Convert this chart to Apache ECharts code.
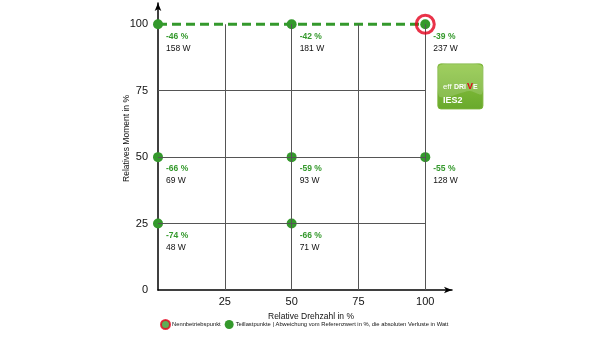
<!DOCTYPE html>
<html><head><meta charset="utf-8">
<script src="https://cdn.jsdelivr.net/npm/echarts@6/dist/echarts.min.js"></script>
<style>html,body{margin:0;padding:0;background:#fff}#c{width:600px;height:338px}</style>
</head><body><div id="c"></div>
<script>
const xTickValues = [25, 50, 75, 100];
const yTickValues = [0, 25, 50, 75, 100];
const gridXValues = [25, 50, 75, 100];
const gridYValues = [25, 50, 75];
const pointsX = [0, 50, 100, 0, 50, 100, 0, 50];
const pointsY = [100, 100, 100, 50, 50, 50, 25, 25];
const deviation = ['-46 %', '-42 %', '-39 %', '-66 %', '-59 %', '-55 %', '-74 %', '-66 %'];
const losses = ['158 W', '181 W', '237 W', '69 W', '93 W', '128 W', '48 W', '71 W'];
const ratedPoint = [100, 100];
const ratedLineY = 100;
const xTitle = 'Relative Drehzahl in %';
const yTitle = 'Relatives Moment in %';
const legendNames = ['Nennbetriebspunkt', 'Teillastpunkte'];
const legendNote = 'Abweichung vom Referenzwert in %, die absoluten Verluste in Watt';

const FONT = '"Liberation Sans Narrow", "Liberation Sans", Arial, sans-serif';
const GREEN = '#34992c';
const RED = '#e3001b';

const chart = echarts.init(document.getElementById('c'), null, {renderer: 'canvas'});

const gridLines = [];
gridXValues.forEach(v => gridLines.push([{coord: [v, 0]}, {coord: [v, 100]}]));
gridYValues.forEach(v => gridLines.push([{coord: [0, v]}, {coord: [100, v]}]));

const dashData = pointsX.map((x, i) => [x, pointsY[i]]).filter(p => p[1] === ratedLineY);
const dashLine = [[Math.min(...dashData.map(p => p[0])), ratedLineY], [Math.max(...dashData.map(p => p[0])), ratedLineY]];

const scatterData = pointsX.map((x, i) => ({value: [x, pointsY[i]], dev: deviation[i], loss: losses[i]}));

chart.setOption({
  animation: false,
  textStyle: {fontFamily: FONT},
  grid: {left: 158, right: 148, top: 3, bottom: 48},
  xAxis: {
    type: 'value', min: 0, max: 110, interval: 25,
    splitLine: {show: false}, axisTick: {show: false},
    axisLine: {show: true, onZero: false, symbol: ['none', 'arrow'], symbolSize: [5, 8], lineStyle: {color: '#000', width: 1.5}},
    axisLabel: {color: '#111', fontSize: 11, fontFamily: FONT, margin: 6,
      formatter: v => xTickValues.includes(v) ? String(v) : ''},
    name: xTitle, nameLocation: 'middle', nameGap: 22, nameMoveOverlap: false,
    nameTextStyle: {color: '#111', fontSize: 8.5, fontFamily: FONT, padding: [0, 0, 0, 12], verticalAlign: 'top'}
  },
  yAxis: {
    type: 'value', min: 0, max: 108, interval: 25,
    splitLine: {show: false}, axisTick: {show: false},
    axisLine: {show: true, onZero: false, symbol: ['none', 'arrow'], symbolSize: [5, 8], lineStyle: {color: '#000', width: 1.5}},
    axisLabel: {color: '#111', fontSize: 11, fontFamily: FONT, margin: 10,
      formatter: v => yTickValues.includes(v) ? String(v) : ''},
    name: yTitle, nameLocation: 'middle', nameGap: 27, nameMoveOverlap: false,
    nameTextStyle: {color: '#111', fontSize: 8.5, fontFamily: FONT, padding: [0, 0, 0, 16]}
  },
  legend: {
    left: 155, bottom: 3, itemWidth: 9, itemHeight: 9, itemGap: 4,
    textStyle: {fontSize: 5.8, color: '#111', fontFamily: FONT, padding: [0, 0, 0, -3]},
    data: [
      {name: legendNames[0], icon: 'circle', itemStyle: {color: GREEN, borderColor: RED, borderWidth: 2}},
      {name: legendNames[1], icon: 'circle', itemStyle: {color: GREEN, borderWidth: 0}}
    ],
    formatter: n => n === legendNames[1] ? n + ' | ' + legendNote : n
  },
  series: [
    {
      type: 'line', name: 'grid', data: [], silent: true, z: 1,
      markLine: {silent: true, symbol: ['none', 'none'], animation: false,
        lineStyle: {color: '#555', width: 1, type: 'solid'}, label: {show: false},
        emphasis: {disabled: true}, data: gridLines}
    },
    {
      type: 'line', name: 'dash', data: dashLine, symbol: 'none', silent: true, z: 2,
      lineStyle: {color: GREEN, width: 3, type: [9, 5]}
    },
    {
      type: 'scatter', name: legendNames[1], data: scatterData, symbol: 'circle', symbolSize: 10, z: 4,
      itemStyle: {color: GREEN, opacity: 1},
      label: {
        show: true, position: [13, 11], align: 'left', verticalAlign: 'top',
        formatter: p => '{a|' + p.data.dev + '}\n{b|' + p.data.loss + '}',
        rich: {
          a: {color: GREEN, fontSize: 8.5, fontWeight: 'bold', fontFamily: FONT, lineHeight: 12},
          b: {color: '#111', fontSize: 8.5, fontFamily: FONT, lineHeight: 12}
        }
      }
    },
    {
      type: 'scatter', name: legendNames[0], data: [ratedPoint], symbol: 'circle', symbolSize: 18, z: 5,
      itemStyle: {color: 'rgba(255,255,255,0)', borderColor: RED, borderWidth: 3}
    }
  ],
  graphic: [
    {
      type: 'group', left: 436, top: 62, silent: true, children: [
        {type: 'rect', shape: {x: 0, y: 0, width: 45, height: 45, r: 3},
          style: {fill: new echarts.graphic.LinearGradient(0, 0, 0, 1, [{offset: 0, color: '#8ec641'}, {offset: 1, color: '#69a92c'}]), stroke: '#78b236', lineWidth: 1}},
        {type: 'polygon', shape: {points: [[1, 2], [44, 2], [44, 30], [32, 27], [20, 30], [10, 33], [1, 32]], smooth: 0.3},
          style: {fill: 'rgba(255,255,255,0.16)'}},
        {type: 'text', x: 5, y: 19, style: {text: 'eff', fill: '#fff', font: '8px ' + FONT}},
        {type: 'text', x: 16, y: 20, style: {text: 'DRI', fill: '#fff', font: 'bold 7px ' + FONT}},
        {type: 'text', x: 29, y: 18, style: {text: 'V', fill: RED, font: 'bold 9px ' + FONT}},
        {type: 'text', x: 35, y: 20, style: {text: 'E', fill: '#fff', font: 'bold 7px ' + FONT}},
        {type: 'text', x: 5, y: 32, style: {text: 'IES2', fill: '#fff', font: 'bold 9px ' + FONT}}
      ]
    }
  ]
});
</script></body></html>
